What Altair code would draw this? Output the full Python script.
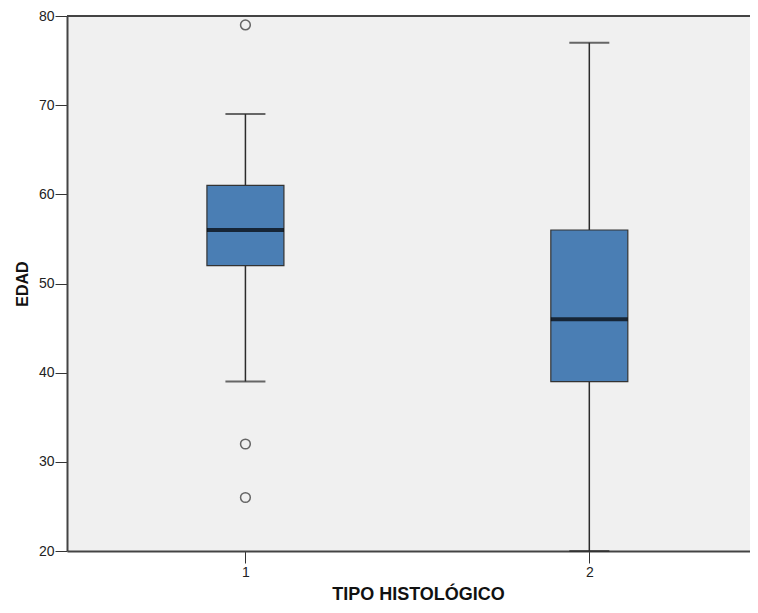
import altair as alt
import pandas as pd

groups = [1, 2]
whisker_low = [39, 20]
q1 = [52, 39]
median = [56, 46]
q3 = [61, 56]
whisker_high = [69, 77]

outlier_group = [1, 1, 1]
outlier_value = [79, 32, 26]

y_ticks = [20, 30, 40, 50, 60, 70, 80]

box_df = pd.DataFrame({
    "g": groups, "lo": whisker_low, "q1": q1, "med": median,
    "q3": q3, "hi": whisker_high,
})
out_df = pd.DataFrame({"g": outlier_group, "v": outlier_value})

xscale = alt.Scale(domain=[0.4957, 2.4527], nice=False, zero=False)
yscale = alt.Scale(domain=[20, 80], nice=False, zero=False)

xenc = alt.X("g:Q", scale=xscale, title="TIPO HISTOLÓGICO",
             axis=alt.Axis(values=groups, format="d", tickSize=12, domain=True,
                           grid=False, labelPadding=2, titlePadding=6,
                           titleX=351, titleAlign="center",
                           titleFontSize=18))

base = alt.Chart(box_df)

whisker = base.mark_rule(color="#2b2b2b", strokeWidth=1.5).encode(
    x=xenc,
    y=alt.Y("lo:Q", scale=yscale, title="EDAD",
            axis=alt.Axis(values=y_ticks, tickSize=12, domain=True,
                          grid=False, labelPadding=1, titlePadding=8,
                          titleFontSize=16)),
    y2="hi:Q",
)

top_border = alt.Chart(box_df).mark_rule(color="#444444", strokeWidth=2).encode(
    y=alt.datum(80, scale=yscale))

cap_lo = base.mark_tick(orient="horizontal", size=40, thickness=2, color="#2b2b2b").encode(
    x=alt.X("g:Q", scale=xscale), y=alt.Y("lo:Q", scale=yscale))
cap_hi = base.mark_tick(orient="horizontal", size=40, thickness=2, color="#2b2b2b").encode(
    x=alt.X("g:Q", scale=xscale), y=alt.Y("hi:Q", scale=yscale))

box = base.mark_bar(size=77, color="#4a7eb4", stroke="#333333", strokeWidth=1.2).encode(
    x=alt.X("g:Q", scale=xscale), y=alt.Y("q1:Q", scale=yscale), y2="q3:Q")

med = base.mark_tick(orient="horizontal", size=77, thickness=4, color="#000000").encode(
    x=alt.X("g:Q", scale=xscale), y=alt.Y("med:Q", scale=yscale))

outl = alt.Chart(out_df).mark_point(shape="circle", size=95, filled=False,
                                    color="#2b2b2b", strokeWidth=1.5).encode(
    x=alt.X("g:Q", scale=xscale), y=alt.Y("v:Q", scale=yscale))

chart = alt.layer(whisker, top_border, cap_lo, cap_hi, box, med, outl).properties(
    width=683, height=535,
    autosize=alt.AutoSizeParams(type="none"),
    padding={"left": 59, "top": 8, "right": 0, "bottom": 54},
    background="#ffffff",
).configure_view(
    fill="#f0f0f0", strokeWidth=0
).configure_axis(
    labelFont="Liberation Sans", labelFontSize=14, labelColor="#222222",
    tickColor="#333333", domainColor="#444444", domainWidth=2,
    titleFont="Liberation Sans",
    titleFontWeight="bold", titleColor="#111111",
)

chart.save("out.html", embed_options={"renderer": "svg", "actions": False})
